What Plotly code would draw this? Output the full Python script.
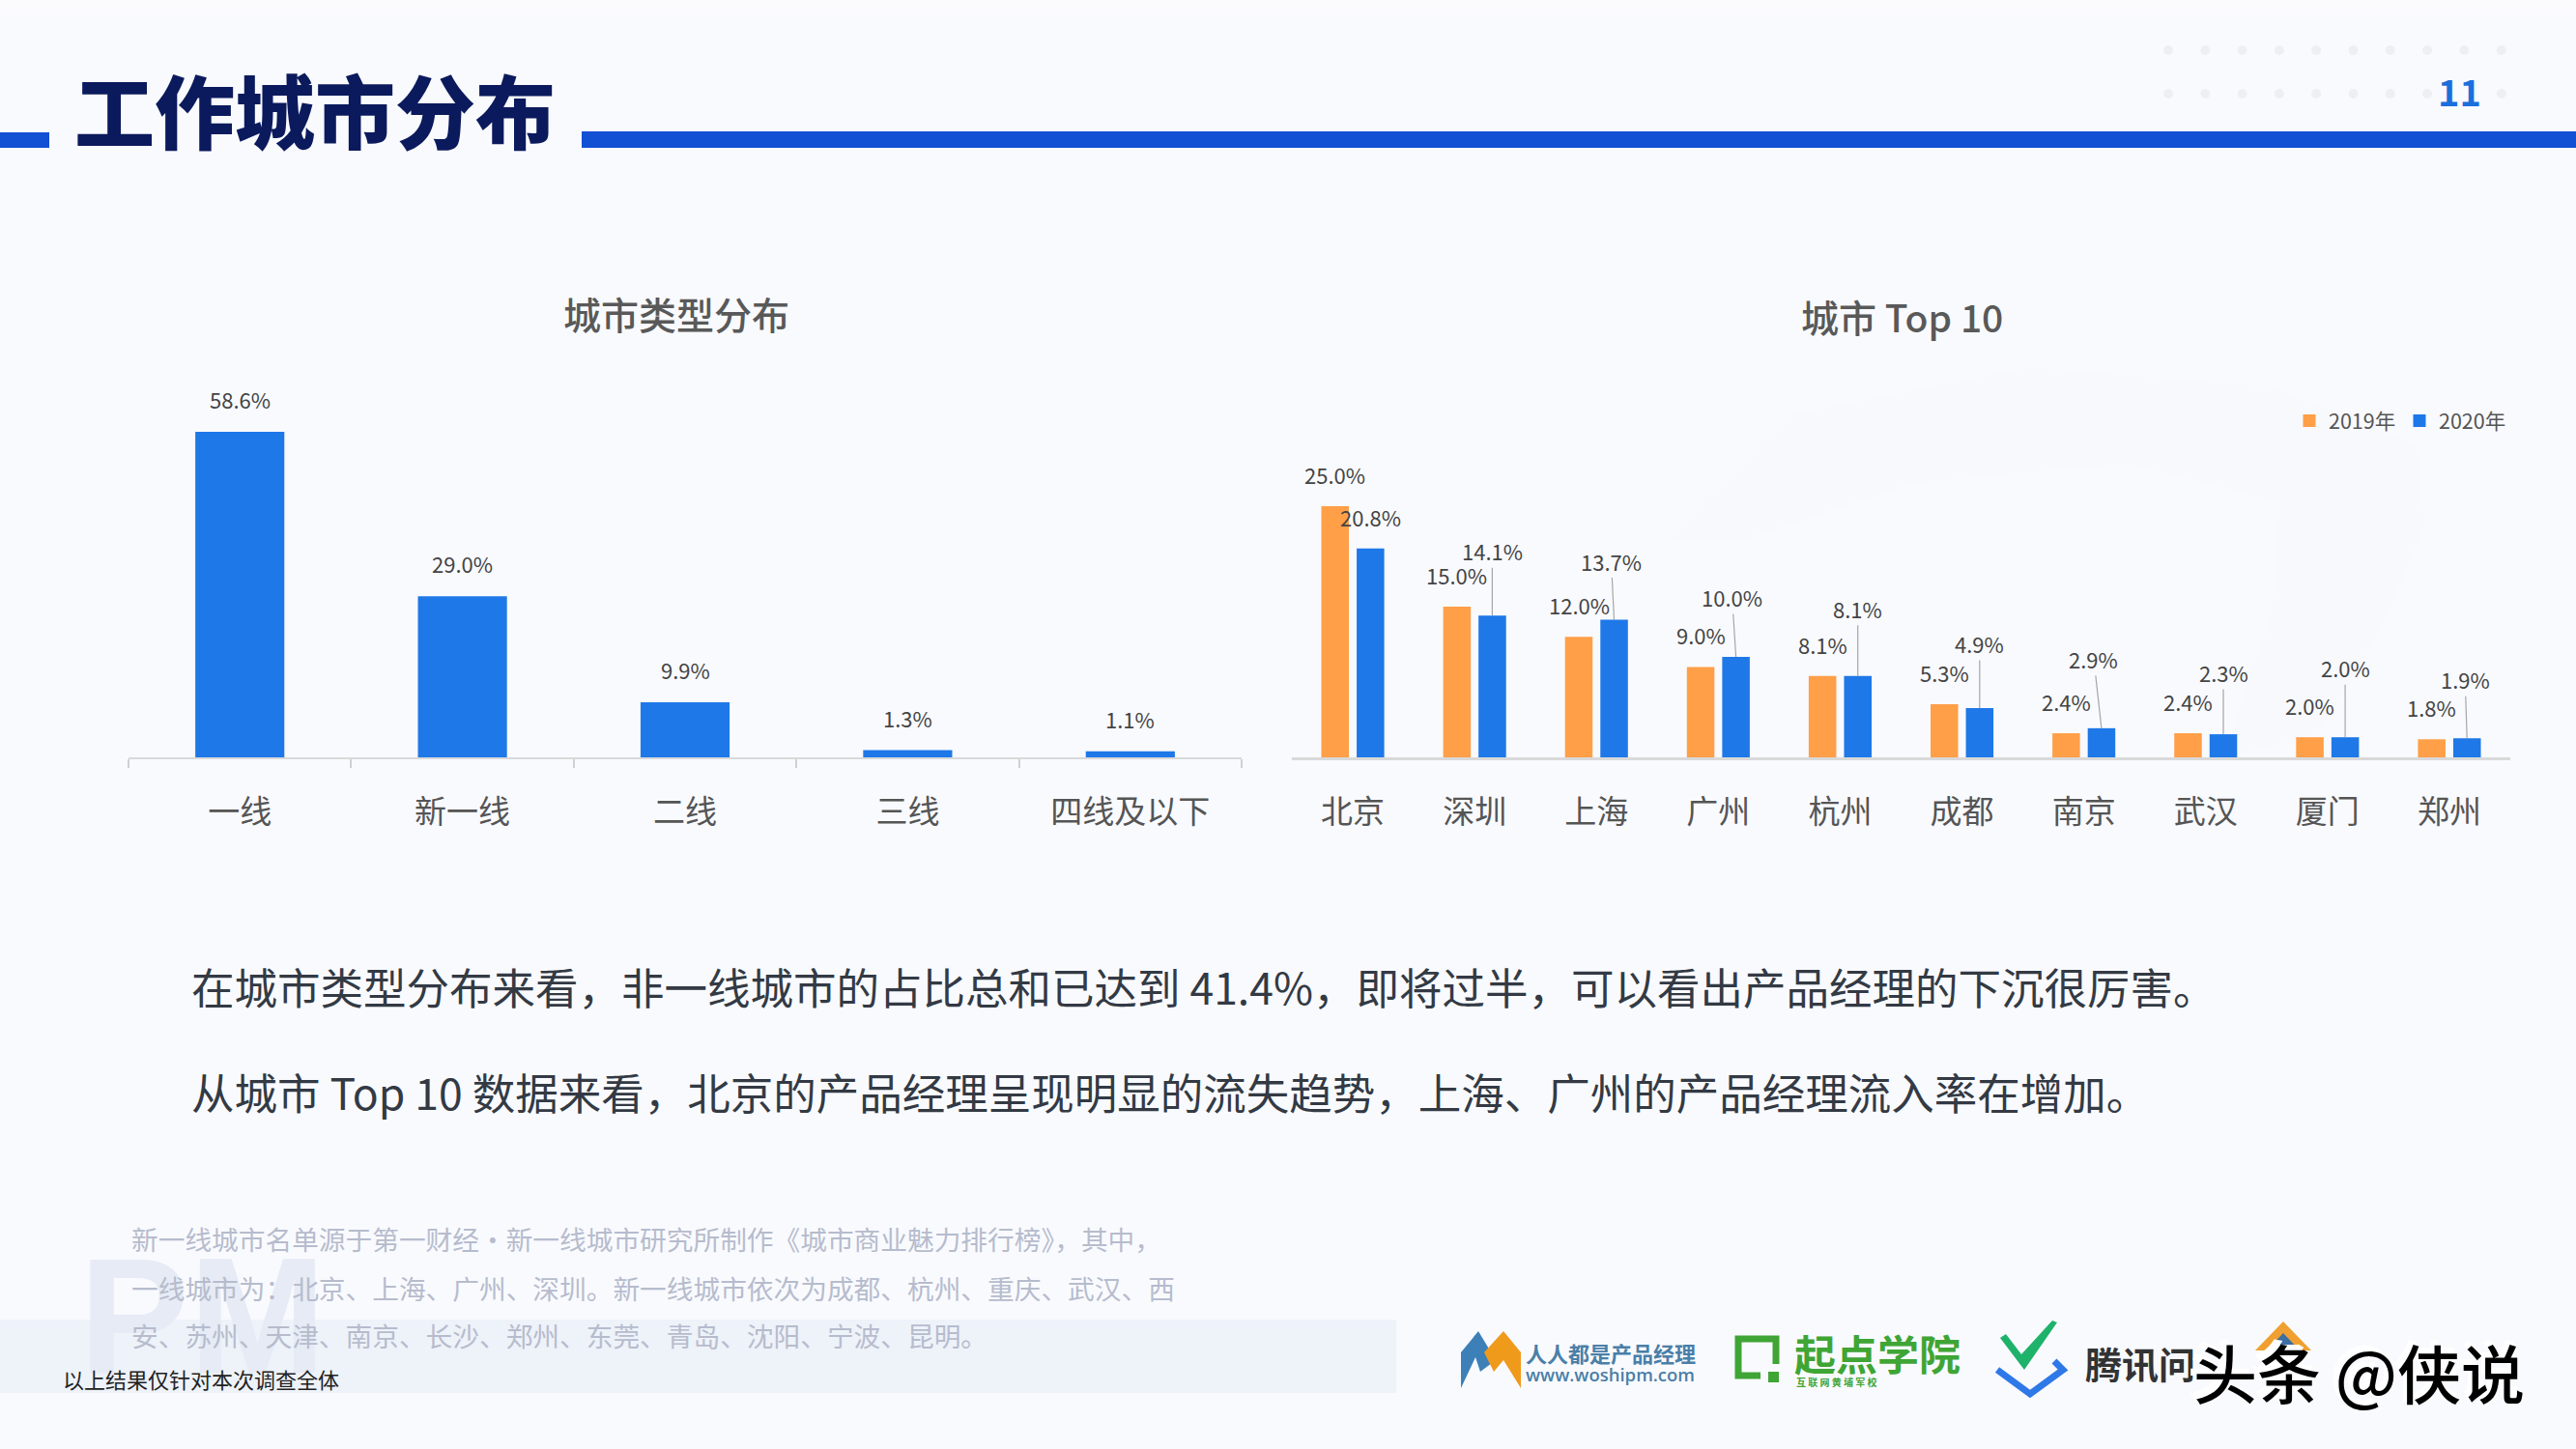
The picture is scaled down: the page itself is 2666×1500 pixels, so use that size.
import plotly.graph_objects as go

# ---------- data ----------
tier_names = ["一线", "新一线", "二线", "三线", "四线及以下"]
tier_values = [58.6, 29.0, 9.9, 1.3, 1.1]

city_names = ["北京", "深圳", "上海", "广州", "杭州", "成都", "南京", "武汉", "厦门", "郑州"]
values_2019 = [25.0, 15.0, 12.0, 9.0, 8.1, 5.3, 2.4, 2.4, 2.0, 1.8]
values_2020 = [20.8, 14.1, 13.7, 10.0, 8.1, 4.9, 2.9, 2.3, 2.0, 1.9]

page_title = "工作城市分布"
left_title = "城市类型分布"
right_title = "城市 Top 10"
page_number = "11"
body_lines = [
    "在城市类型分布来看，非一线城市的占比总和已达到 41.4%，即将过半，可以看出产品经理的下沉很厉害。",
    "从城市 Top 10 数据来看，北京的产品经理呈现明显的流失趋势，上海、广州的产品经理流入率在增加。",
]
note_lines = [
    "新一线城市名单源于第一财经·新一线城市研究所制作《城市商业魅力排行榜》，其中，",
    "一线城市为：北京、上海、广州、深圳。新一线城市依次为成都、杭州、重庆、武汉、西",
    "安、苏州、天津、南京、长沙、郑州、东莞、青岛、沈阳、宁波、昆明。",
]
scope_note = "以上结果仅针对本次调查全体"

# ---------- style / layout ----------
W, H = 2666, 1500
FONT = "Noto Sans CJK SC"
BG = "#f9fafe"
BLUE = "#1e78e8"
ORANGE = "#ff9f48"
BASE_Y = 784
TOP_Y = 300
# leader label lift (px above bar top) and sideways shift for the 2020 labels
lift_2020 = [33, 67, 61, 62, 70, 67, 72, 64, 72, 61]
side_2020 = [0, 0, -3, -4, 0, 0, -8, 0, 0, -2]


def px(x):
    return x / W


def py(y):
    return 1 - y / H


def poly(points):
    return "M " + " L ".join(f"{px(x):.5f},{py(y):.5f}" for x, y in points) + " Z"


fig = go.Figure()
fig.add_bar(x=tier_names, y=tier_values, width=0.4, marker_color=BLUE, marker_line_width=0,
            xaxis="x", yaxis="y", showlegend=False)
fig.add_bar(x=city_names, y=values_2019, marker_color=ORANGE, marker_line_width=0,
            xaxis="x2", yaxis="y2", showlegend=False, name="2019年")
fig.add_bar(x=city_names, y=values_2020, marker_color=BLUE, marker_line_width=0,
            xaxis="x2", yaxis="y2", showlegend=False, name="2020年")
# legend keys: small squares as in the reference
for nm, col in (("2019年", ORANGE), ("2020年", BLUE)):
    fig.add_scatter(x=[None], y=[None], mode="markers", name=nm, xaxis="x2", yaxis="y2",
                    marker=dict(symbol="square", size=13, color=col))

ann = []


def text(s, x, y, size, color, anchor="left", weight=400, family=FONT, **kw):
    ann.append(dict(text=s, x=px(x), y=py(y), xref="paper", yref="paper", showarrow=False,
                    xanchor=anchor, yanchor="middle",
                    font=dict(family=family, size=size, color=color, weight=weight), **kw))


# faint PM mark goes first so that the notes sit on it
text("PM", 80, 1362, 170, "#e6ebf5", weight=700, family="Liberation Sans")

text(page_title, 75, 112, 83, "#0b1a5c", weight=900)
text(page_number, 2545, 93, 38, "#1b6fdc", anchor="center", weight=700)
text(left_title, 700, 324, 39, "#595959", anchor="center", weight=500)
text(right_title, 1968, 327, 39, "#595959", anchor="center", weight=500)
for line, y in zip(body_lines, (1020, 1129)):
    text(line, 196, y, 44.5, "#333a44")
for line, y in zip(note_lines, (1282, 1333, 1382)):
    text(line, 134, y, 27.7, "#b6bccd")
text(scope_note, 63, 1427, 22, "#222222")

LABEL = dict(family=FONT, size=22, color="#444444")
for n, v in zip(tier_names, tier_values):
    ann.append(dict(text=f"{v:.1f}%", x=n, y=v, xref="x", yref="y", showarrow=False,
                    yanchor="middle", yshift=34, font=LABEL))
for i, (n, v) in enumerate(zip(city_names, values_2019)):
    ann.append(dict(text=f"{v:.1f}%", x=n, y=v, xref="x2", yref="y2", showarrow=False,
                    yanchor="middle", xshift=-18.25, yshift=33, font=LABEL))
for i, (n, v) in enumerate(zip(city_names, values_2020)):
    if i == 0:
        ann.append(dict(text=f"{v:.1f}%", x=n, y=v, xref="x2", yref="y2", showarrow=False,
                        yanchor="middle", xshift=18.25, yshift=lift_2020[i], font=LABEL))
    else:
        ann.append(dict(text=f"{v:.1f}%", x=n, y=v, xref="x2", yref="y2", showarrow=True,
                        arrowhead=0, arrowwidth=1.2, arrowcolor="#a6a6a6", standoff=0,
                        ax=side_2020[i], ay=-lift_2020[i], xshift=18.25, font=LABEL))

# partner logos (text parts)
text("人人都是产品经理", 1577, 1400, 22, "#4a7fa8", weight=700)
text("www.woshipm.com", 1577, 1422, 18.5, "#4a7fa8", family="Open Sans", weight=600)
text("起点学院", 1855, 1400, 43, "#3fa535", weight=700)
text("互 联 网 黄 埔 军 校", 1857, 1430, 10, "#3fa535", weight=700)
text("腾讯问", 2156, 1410, 38, "#333333", weight=700)
# watermark with white shadow
text("头条 @侠说", 2262, 1414, 66, "#ffffff", weight=700)
text("头条 @侠说", 2268, 1419, 66, "#000000", weight=500)

shapes = [
    dict(type="rect", xref="paper", yref="paper", x0=0, x1=1, y0=py(16), y1=1,
         fillcolor="#fbfbfd", line_width=0, layer="below"),
    dict(type="path", xref="paper", yref="paper", layer="below", line_width=0, fillcolor="#f7f9fd",
         path=poly([(1720, 560), (1850, 430), (2100, 380), (2350, 400), (2500, 460), (2510, 540),
                    (2470, 640), (2400, 760), (2300, 784), (2350, 640), (2360, 520), (2200, 480),
                    (1980, 500), (1800, 560)])),
    dict(type="rect", xref="paper", yref="paper", x0=0, x1=px(1445), y0=py(1442), y1=py(1366),
         fillcolor="#eef2f9", line_width=0, layer="below"),
    dict(type="rect", xref="paper", yref="paper", x0=0, x1=px(51), y0=py(153), y1=py(137),
         fillcolor="#1250d4", line_width=0),
    dict(type="rect", xref="paper", yref="paper", x0=px(602), x1=1, y0=py(153), y1=py(136),
         fillcolor="#1250d4", line_width=0),
    # M logo
    dict(type="path", xref="paper", yref="paper", fillcolor="#3d80b8", line_width=0,
         path=poly([(1512, 1400), (1530, 1378), (1548, 1408), (1532, 1420), (1527, 1405), (1512, 1437)])),
    dict(type="path", xref="paper", yref="paper", fillcolor="#f09a1c", line_width=0,
         path=poly([(1536, 1400), (1556, 1378), (1574, 1400), (1574, 1437), (1556, 1408), (1546, 1420)])),
    # Q mark of the green logo
    dict(type="path", xref="paper", yref="paper", fillcolor="rgba(0,0,0,0)",
         line=dict(color="#3fa535", width=7),
         path=f"M {px(1822):.5f},{py(1424):.5f} L {px(1799):.5f},{py(1424):.5f} L {px(1799):.5f},{py(1386):.5f} "
              f"L {px(1838):.5f},{py(1386):.5f} L {px(1838):.5f},{py(1412):.5f}"),
    dict(type="rect", xref="paper", yref="paper", x0=px(1830), x1=px(1841), y0=py(1431), y1=py(1420),
         fillcolor="#3fa535", line_width=0),
    # check mark
    dict(type="path", xref="paper", yref="paper", fillcolor="#1fb26b", line_width=0,
         path=poly([(2070, 1385), (2076, 1381), (2092, 1402), (2124, 1367), (2129, 1369), (2095, 1418)])),
    dict(type="path", xref="paper", yref="paper", fillcolor="rgba(0,0,0,0)",
         line=dict(color="#2f78e8", width=7),
         path=f"M {px(2067):.5f},{py(1418):.5f} L {px(2101):.5f},{py(1443):.5f} L {px(2135):.5f},{py(1418):.5f} "
              f"L {px(2126):.5f},{py(1409):.5f}"),
    # house icon behind the watermark
    dict(type="path", xref="paper", yref="paper", fillcolor="#f0a030", line_width=0,
         path=poly([(2363, 1368), (2392, 1398), (2334, 1398)])),
    dict(type="path", xref="paper", yref="paper", fillcolor="#3a6ea5", line_width=0,
         path=poly([(2363, 1380), (2380, 1398), (2346, 1398)])),
]
# decorative dot grid, top right
for row_y in (52, 97):
    for k in range(10):
        if row_y == 97 and k == 8:
            continue
        cx = 2244 + k * 38.3
        shapes.append(dict(type="circle", xref="paper", yref="paper", x0=px(cx - 5), x1=px(cx + 5),
                           y0=py(row_y + 5), y1=py(row_y - 5), fillcolor="#eeeff3", line_width=0,
                           layer="below"))

y_dom = [py(BASE_Y), py(TOP_Y)]
TICK = dict(family=FONT, size=33, color="#555555")
fig.update_layout(
    width=W, height=H, margin=dict(l=0, r=0, t=0, b=0, pad=0, autoexpand=False),
    paper_bgcolor=BG, plot_bgcolor="rgba(0,0,0,0)",
    barmode="group", bargap=0.42, bargroupgap=0.22,
    font=dict(family=FONT),
    xaxis=dict(domain=[px(133), px(1285)], type="category", categoryorder="array", categoryarray=tier_names,
               range=[-0.5, 4.5], tickson="boundaries", ticks="outside", ticklen=9, tickwidth=2,
               tickcolor="#d0d0d0", showline=True, linecolor="#d9d9d9", linewidth=2, showgrid=False,
               tickfont=TICK, ticklabelstandoff=26, fixedrange=True, automargin=False),
    yaxis=dict(domain=y_dom, range=[0, (BASE_Y - TOP_Y) / 5.75], visible=False),
    xaxis2=dict(domain=[px(1337), px(2598)], type="category", categoryorder="array", categoryarray=city_names,
                range=[-0.5, 9.5], ticks="", showline=True, linecolor="#d9d9d9", linewidth=3, showgrid=False,
                tickfont=TICK, ticklabelstandoff=25, anchor="y2", fixedrange=True, automargin=False),
    yaxis2=dict(domain=y_dom, range=[0, (BASE_Y - TOP_Y) / 10.4], visible=False, anchor="x2"),
    legend=dict(orientation="h", x=px(2370), y=py(415), xanchor="left", yanchor="top",
                font=dict(family=FONT, size=21.5, color="#555555"), bgcolor="rgba(0,0,0,0)",
                itemwidth=30, entrywidth=69, entrywidthmode="pixels", tracegroupgap=0),
    annotations=ann, shapes=shapes,
)

fig.write_html("out.html", config={"displayModeBar": False},
               post_script="document.body.style.margin='0';document.body.style.overflow='hidden';")
